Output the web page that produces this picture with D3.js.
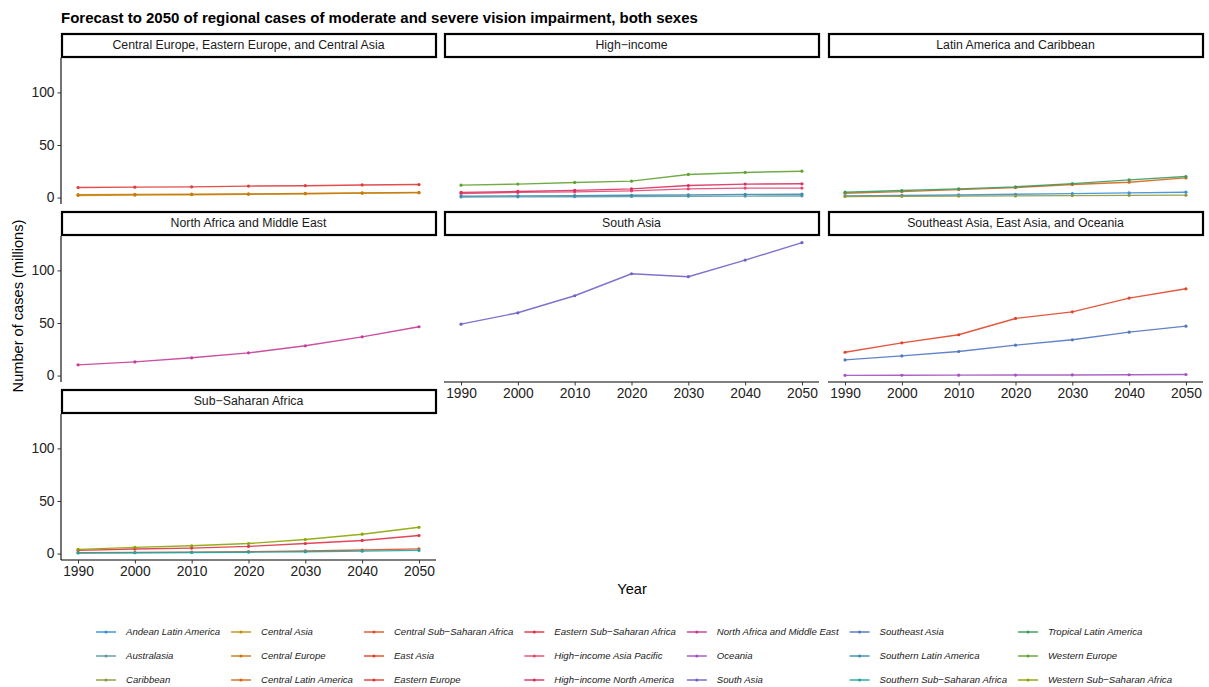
<!DOCTYPE html>
<html>
<head>
<meta charset="utf-8">
<script src="https://cdn.jsdelivr.net/npm/d3@7"></script>
<style>
  html, body { margin: 0; padding: 0; background: #fff; }
  svg { display: block; font-family: "Liberation Sans", Arial, Helvetica, sans-serif; }
</style>
</head>
<body>
<svg id="chart" width="1209" height="687"></svg>
<script>
// Forecast years
const years = [1990, 2000, 2010, 2020, 2030, 2040, 2050];
const yearTicks = [1990, 2000, 2010, 2020, 2030, 2040, 2050];
const caseTicks = [0, 50, 100];

// Super-regions (facet panels), in layout order
const superRegions = [
  "Central Europe, Eastern Europe, and Central Asia",
  "High\u2212income",
  "Latin America and Caribbean",
  "North Africa and Middle East",
  "South Asia",
  "Southeast Asia, East Asia, and Oceania",
  "Sub\u2212Saharan Africa"
];

// Regions (legend order) and the super-region each belongs to
const regions = [
  "Andean Latin America", "Australasia", "Caribbean",
  "Central Asia", "Central Europe", "Central Latin America",
  "Central Sub\u2212Saharan Africa", "East Asia", "Eastern Europe",
  "Eastern Sub\u2212Saharan Africa", "High\u2212income Asia Pacific", "High\u2212income North America",
  "North Africa and Middle East", "Oceania", "South Asia",
  "Southeast Asia", "Southern Latin America", "Southern Sub\u2212Saharan Africa",
  "Tropical Latin America", "Western Europe", "Western Sub\u2212Saharan Africa"
];
const regionGroup = [2, 1, 2, 0, 0, 2, 6, 5, 0, 6, 1, 1, 3, 5, 4, 5, 1, 6, 2, 1, 6];

const regionColors = [
  "#3a8fd6", "#5f9aa3", "#8d9a3e",
  "#c39210", "#c77a12", "#d6661e",
  "#df5229", "#e0452a", "#e03a3a",
  "#e03347", "#e24872", "#d9305f",
  "#c63c98", "#a452be", "#7262c8",
  "#5077c0", "#3b8bb0", "#22a6a0",
  "#3c9b5c", "#62a232", "#8ba600"
];

// Cases of moderate and severe vision impairment, millions, by region (same order as regions)
const andeanLatinAmerica      = [1.6, 2.0, 2.5, 3.1, 3.8, 4.5, 5.1];
const australasia             = [0.6, 0.7, 0.8, 1.0, 1.2, 1.4, 1.5];
const caribbean               = [1.0, 1.2, 1.4, 1.6, 1.9, 2.1, 2.3];
const centralAsia             = [2.0, 2.3, 2.7, 3.1, 3.6, 4.2, 4.7];
const centralEurope           = [2.8, 3.0, 3.2, 3.5, 3.9, 4.4, 4.8];
const centralLatinAmerica     = [4.1, 5.7, 7.6, 9.5, 12.4, 14.6, 18.7];
const centralSubSaharan       = [0.8, 1.0, 1.3, 1.8, 2.5, 3.4, 4.5];
const eastAsia                = [22.2, 31.1, 38.8, 54.3, 60.6, 73.7, 82.5];
const easternEurope           = [9.6, 9.9, 10.2, 10.9, 11.3, 12.0, 12.4];
const easternSubSaharan       = [3.0, 4.3, 5.2, 6.8, 9.6, 12.5, 17.2];
const highIncomeAsiaPacific   = [3.9, 4.9, 5.4, 6.4, 8.3, 9.0, 9.0];
const highIncomeNorthAmerica  = [4.9, 5.8, 6.8, 8.3, 11.5, 12.8, 13.1];
const northAfricaMiddleEast   = [10.2, 13.0, 16.9, 21.6, 28.3, 36.8, 46.4];
const oceania                 = [0.2, 0.3, 0.4, 0.5, 0.6, 0.8, 1.0];
const southAsia               = [48.9, 59.7, 75.9, 96.8, 94.0, 109.8, 126.4];
const southeastAsia           = [14.9, 18.7, 22.9, 28.9, 34.0, 41.3, 47.0];
const southernLatinAmerica    = [1.4, 1.6, 1.9, 2.2, 2.6, 3.0, 3.2];
const southernSubSaharan      = [0.6, 0.8, 1.0, 1.3, 1.7, 2.3, 3.0];
const tropicalLatinAmerica    = [5.1, 6.7, 8.3, 10.2, 13.3, 16.8, 20.0];
const westernEurope           = [11.8, 12.8, 14.4, 15.6, 22.0, 23.9, 25.1];
const westernSubSaharan       = [4.0, 5.9, 7.4, 9.6, 13.4, 18.4, 25.0];

const regionValues = [
  andeanLatinAmerica, australasia, caribbean,
  centralAsia, centralEurope, centralLatinAmerica,
  centralSubSaharan, eastAsia, easternEurope,
  easternSubSaharan, highIncomeAsiaPacific, highIncomeNorthAmerica,
  northAfricaMiddleEast, oceania, southAsia,
  southeastAsia, southernLatinAmerica, southernSubSaharan,
  tropicalLatinAmerica, westernEurope, westernSubSaharan
];

// ---- layout ----
const svg = d3.select("#chart");
const colX = [61, 444, 828];
const panelW = 375;
const rowTop = [33, 211, 389];
const stripH = 24;
const plotH = 146;
const nCols = 3;

const series = regions.map((name, i) => ({
  name, color: regionColors[i], group: regionGroup[i],
  points: years.map((yr, j) => ({ year: yr, value: regionValues[i][j] }))
}));

// shared scales with ggplot-like 5% expansion
const allVals = regionValues.flat();
const vMin = d3.min(allVals), vMax = d3.max(allVals);
const vPad = (vMax - vMin) * 0.05;
const yPad = (d3.max(years) - d3.min(years)) * 0.05;
const xDomain = [d3.min(years) - yPad, d3.max(years) + yPad];
const yDomain = [vMin - vPad, vMax + vPad];

const tickFont = "13.8px";
const textCol = "#222";

// title
svg.append("text")
  .attr("x", 61).attr("y", 23)
  .attr("font-size", "15px").attr("font-weight", "bold").attr("fill", "#000")
  .text("Forecast to 2050 of regional cases of moderate and severe vision impairment, both sexes");

superRegions.forEach((sr, p) => {
  const col = p % nCols, row = Math.floor(p / nCols);
  const x0 = colX[col];
  const sTop = rowTop[row];
  const pTop = sTop + stripH + 1;
  const g = svg.append("g");

  const x = d3.scaleLinear().domain(xDomain).range([x0, x0 + panelW]);
  const y = d3.scaleLinear().domain(yDomain).range([pTop + plotH, pTop]);

  // strip
  g.append("rect")
    .attr("x", x0 + 1).attr("y", sTop + 1)
    .attr("width", panelW - 1).attr("height", stripH - 1)
    .attr("fill", "#fff").attr("stroke", "#000").attr("stroke-width", 2.2);
  g.append("text")
    .attr("x", x0 + panelW / 2).attr("y", sTop + stripH / 2 + 1)
    .attr("text-anchor", "middle").attr("dominant-baseline", "middle")
    .attr("font-size", "12.3px").attr("fill", "#1a1a1a")
    .text(sr);

  // lines and points
  const line = d3.line().x(d => x(d.year)).y(d => y(d.value));
  series.filter(s => s.group === p).forEach(s => {
    g.append("path")
      .attr("d", line(s.points))
      .attr("fill", "none").attr("stroke", s.color)
      .attr("stroke-width", 1.4).attr("stroke-opacity", 0.9);
    g.selectAll(null).data(s.points).enter().append("circle")
      .attr("cx", d => x(d.year)).attr("cy", d => y(d.value))
      .attr("r", 1.6).attr("fill", s.color);
  });

  // y axis on leftmost panels
  if (col === 0) {
    const ay = g.append("g").attr("transform", `translate(${x0},0)`)
      .call(d3.axisLeft(y).tickValues(caseTicks).tickSize(3.5).tickPadding(3).tickFormat(d3.format("d")));
    ay.select(".domain").attr("d", `M0,${pTop}V${pTop + plotH}`).attr("stroke", "#000").attr("stroke-width", 1.1);
    ay.selectAll(".tick line").attr("stroke", "#333").attr("stroke-width", 1);
    ay.selectAll(".tick text").attr("font-size", tickFont).attr("fill", textCol).attr("font-family", null);
  }

  // x axis on the bottom panel of each column
  const belowIdx = p + nCols;
  if (belowIdx >= superRegions.length) {
    const ax = g.append("g").attr("transform", `translate(0,${pTop + plotH})`)
      .call(d3.axisBottom(x).tickValues(yearTicks).tickSize(3.5).tickPadding(2.5).tickFormat(d3.format("d")));
    ax.select(".domain").attr("d", `M${x0},0H${x0 + panelW}`).attr("stroke", "#000").attr("stroke-width", 1.1);
    ax.selectAll(".tick line").attr("stroke", "#333").attr("stroke-width", 1);
    ax.selectAll(".tick text").attr("font-size", tickFont).attr("fill", textCol).attr("font-family", null);
  }
});

// axis titles
svg.append("text")
  .attr("transform", "translate(23,306) rotate(-90)")
  .attr("text-anchor", "middle").attr("font-size", "14.6px").attr("fill", "#000")
  .text("Number of cases (millions)");
svg.append("text")
  .attr("x", 632).attr("y", 594)
  .attr("text-anchor", "middle").attr("font-size", "14.6px").attr("fill", "#000")
  .text("Year");

// legend: 3 rows, filled column by column
const legRows = 3;
const legRowY = [632, 656, 680];
const keyW = 20, keyGap = 10, colSpacing = 11;
const legend = svg.append("g");
const legCols = Math.ceil(regions.length / legRows);

// measure label widths to size the columns
const measure = legend.append("text").attr("font-size", "9.6px").attr("font-style", "italic");
const colWidths = d3.range(legCols).map(c => {
  let w = 0;
  for (let r = 0; r < legRows; r++) {
    const i = c * legRows + r;
    if (i < regions.length) {
      measure.text(regions[i]);
      w = Math.max(w, measure.node().getComputedTextLength());
    }
  }
  return keyW + keyGap + w;
});
measure.remove();
const totalW = d3.sum(colWidths) + colSpacing * (legCols - 1);
let cx = 634 - totalW / 2;
const colStart = colWidths.map(w => { const s = cx; cx += w + colSpacing; return s; });

regions.forEach((name, i) => {
  const c = Math.floor(i / legRows), r = i % legRows;
  const kx = colStart[c], ky = legRowY[r];
  const item = legend.append("g");
  item.append("line")
    .attr("x1", kx).attr("x2", kx + keyW).attr("y1", ky).attr("y2", ky)
    .attr("stroke", regionColors[i]).attr("stroke-width", 1.4);
  item.append("circle")
    .attr("cx", kx + keyW / 2).attr("cy", ky).attr("r", 1.6).attr("fill", regionColors[i]);
  item.append("text")
    .attr("x", kx + keyW + keyGap).attr("y", ky)
    .attr("dominant-baseline", "middle")
    .attr("font-size", "9.6px").attr("font-style", "italic").attr("fill", "#1a1a1a")
    .text(name);
});
</script>
</body>
</html>
